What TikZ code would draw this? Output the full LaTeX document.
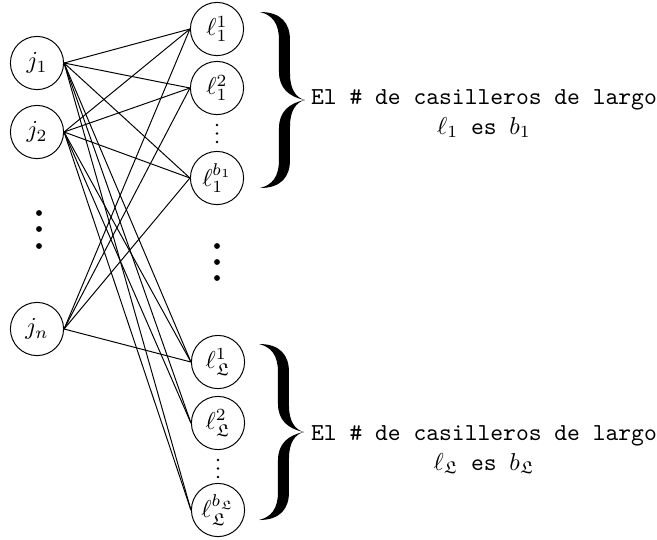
\documentclass[tikz,border=0pt]{standalone}
\usepackage{amssymb}
\begin{document}
\begin{tikzpicture}[x=0.41pt,y=-0.41pt,
  vert/.style={draw,circle,minimum size=21.8pt,inner sep=0pt},
  bigdot/.style={fill,circle,inner sep=0pt,minimum size=2.4pt},
  smalldot/.style={fill,circle,inner sep=0pt,minimum size=1.2pt},
  labeltext/.style={align=center,font=\ttfamily,inner sep=0pt},
  bigbrace/.pic={
    \fill (-45,-88) .. controls (-24,-88) and (-15,-77) .. (-15,-60)
      -- (-15,-26) .. controls (-15,-11) and (-9,-2) .. (0,0)
      .. controls (-9,2) and (-15,11) .. (-15,26)
      -- (-15,60) .. controls (-15,77) and (-24,88) .. (-45,88)
      .. controls (-33,85) and (-26,77) .. (-26,60)
      -- (-26,28) .. controls (-26,12) and (-16,3) .. (0,0)
      .. controls (-16,-3) and (-26,-12) .. (-26,-28)
      -- (-26,-60) .. controls (-26,-77) and (-33,-85) .. (-45,-88) -- cycle;
  }]
\useasboundingbox (0,0) rectangle (657,539);
% left vertices
\node[vert] (j1) at (37,63) {$j_1$};
\node[vert] (j2) at (37,132) {$j_2$};
\node[vert] (jn) at (37,329) {$j_n$};
% right vertices
\node[vert] (a1) at (217,29) {$\ell_1^1$};
\node[vert] (a2) at (217,88) {$\ell_1^2$};
\node[vert] (ab) at (217,178) {$\ell_1^{b_1}$};
\node[vert] (c1) at (218,362) {$\ell_{\mathfrak{L}}^1$};
\node[vert] (c2) at (218,423) {$\ell_{\mathfrak{L}}^2$};
\node[vert] (cb) at (218,510) {$\ell_{\mathfrak{L}}^{b_{\mathfrak{L}}}$};
% edges
\foreach \s in {j1,j2}{
  \foreach \t in {a1,a2,ab,c1,c2,cb}{
    \draw (\s.east) -- (\t.west);
  }
}
\foreach \t in {a1,a2,ab,c1}{
  \draw (jn.east) -- (\t.west);
}
% dots
\node[bigdot] (dl1) at (39,213) {};
\node[bigdot] (dl2) at (39,229) {};
\node[bigdot] (dl3) at (39,246) {};
\node[bigdot] (dr1) at (217,246) {};
\node[bigdot] (dr2) at (217,262) {};
\node[bigdot] (dr3) at (217,278) {};
\node[smalldot] (va1) at (217,125) {};
\node[smalldot] (va2) at (217,133.5) {};
\node[smalldot] (va3) at (217,142) {};
\node[smalldot] (vc1) at (218,460) {};
\node[smalldot] (vc2) at (218,468.5) {};
\node[smalldot] (vc3) at (218,477) {};
% braces
\pic at (305,100) {bigbrace};
\pic at (304,432) {bigbrace};
% texts
\node[labeltext] (t1) at (484,114) {El \# de casilleros de largo\\$\ell_1$ es $b_1$};
\node[labeltext] (t2) at (484,450) {El \# de casilleros de largo\\$\ell_{\mathfrak{L}}$ es $b_{\mathfrak{L}}$};
\end{tikzpicture}
\end{document}
